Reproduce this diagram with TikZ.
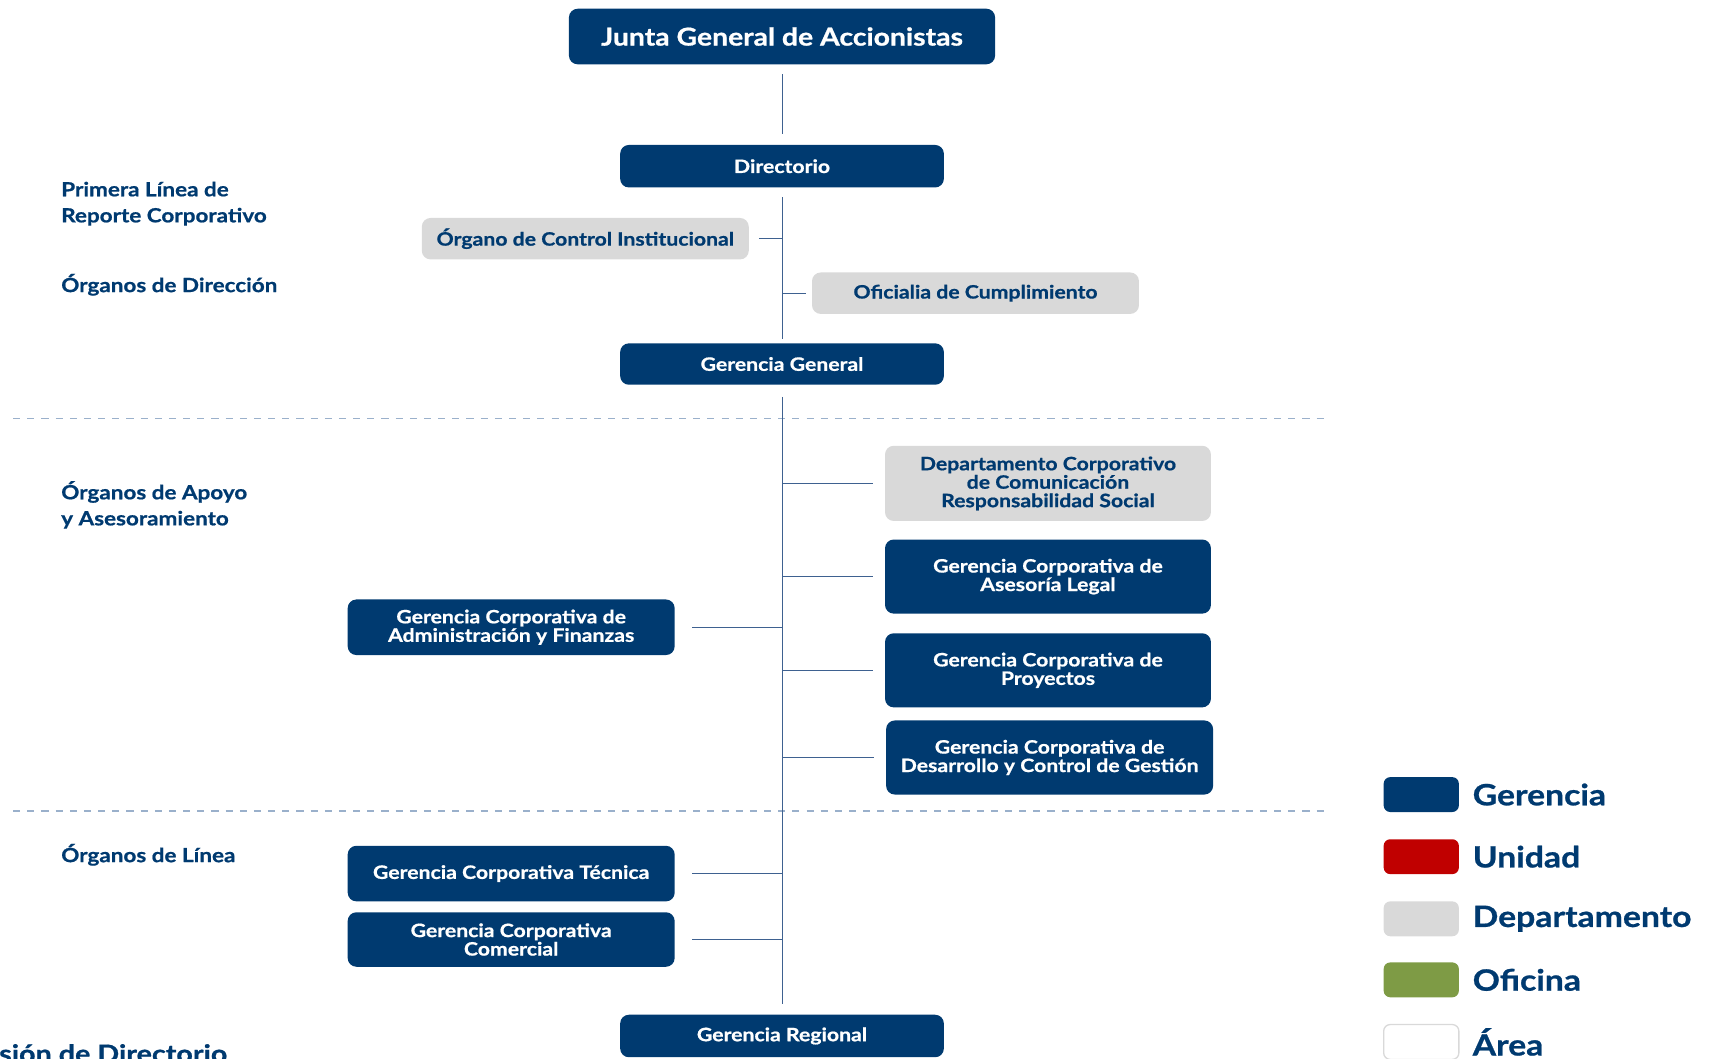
\documentclass[tikz,border=0pt]{standalone}
\usepackage{fontspec}
\setmainfont{Lato}[FakeStretch=1.15, BoldFeatures={FakeBold=0.8}]
\definecolor{navy}{HTML}{003A70}
\definecolor{dgray}{HTML}{D9D9D9}
\definecolor{lred}{HTML}{C00000}
\definecolor{lgreen}{HTML}{7E9B45}
\definecolor{connc}{HTML}{3E6190}
\definecolor{dashc}{HTML}{9AB0CB}
\begin{document}
\begin{tikzpicture}[x=1bp,y=-1bp,
  gbox/.style={fill=navy, rounded corners=8bp, text=white, align=center, inner sep=0pt,
    font=\bfseries\fontsize{17}{17}\selectfont},
  dbox/.style={fill=dgray, rounded corners=8bp, text=navy, align=center, inner sep=0pt,
    font=\bfseries\fontsize{17}{17}\selectfont},
  conn/.style={draw=connc, line width=0.9bp},
  sepline/.style={draw=dashc, line width=1.3bp, dash pattern=on 6.5bp off 6.5bp},
  lbl/.style={text=navy, anchor=base west, inner sep=0pt, align=left,
    font=\bfseries\fontsize{18}{24}\selectfont},
  legbox/.style={rounded corners=6bp, minimum width=69bp, minimum height=32bp, inner sep=0pt},
  legtxt/.style={text=navy, anchor=west, inner sep=0pt, font=\bfseries\fontsize{27}{27}\selectfont}
]
\useasboundingbox (0,0) rectangle (1568,971);

% main boxes
\node[gbox, minimum width=391bp, minimum height=51bp, font=\bfseries\fontsize{22.7}{22.7}\selectfont] (junta) at (717.5,33.5) {Junta General de Accionistas};
\node[gbox, minimum width=297bp, minimum height=39bp] (dir) at (717.5,152.5) {Directorio};
\node[dbox, minimum width=300bp, minimum height=38bp] (oci) at (537,219) {Órgano de Control Institucional};
\node[dbox, minimum width=300bp, minimum height=38bp] (ofi) at (895,269) {Oficialia de Cumplimiento};
\node[gbox, minimum width=297bp, minimum height=38bp] (gg) at (717.5,334) {Gerencia General};

\node[dbox, minimum width=299bp, minimum height=69bp] (dcc) at (961.5,443.5) {Departamento Corporativo\\de Comunicación\\Responsabilidad Social};
\node[gbox, minimum width=299bp, minimum height=68bp] (gal) at (961.5,529) {Gerencia Corporativa de\\Asesoría Legal};
\node[gbox, minimum width=299bp, minimum height=68bp] (gpr) at (961.5,615) {Gerencia Corporativa de\\Proyectos};
\node[gbox, minimum width=300bp, minimum height=68bp] (gdc) at (963,695) {Gerencia Corporativa de\\Desarrollo y Control de Gestión};
\node[gbox, minimum width=300bp, minimum height=51bp] (gaf) at (469,575.5) {Gerencia Corporativa de\\Administración y Finanzas};

\node[gbox, minimum width=300bp, minimum height=51bp] (gct) at (469,801.5) {Gerencia Corporativa Técnica};
\node[gbox, minimum width=300bp, minimum height=50bp] (gcc) at (469,862) {Gerencia Corporativa\\Comercial};
\node[gbox, minimum width=297bp, minimum height=39bp] (grg) at (717.5,950.5) {Gerencia Regional};

% separators
\coordinate (s1a) at (12,384); \coordinate (s1b) at (1220,384);
\coordinate (s2a) at (12,744); \coordinate (s2b) at (1220,744);
\draw[sepline] (s1a) -- (s1b);
\draw[sepline] (s2a) -- (s2b);

% connectors
\draw[conn, shorten <=9bp, shorten >=10bp] (junta.south) -- (dir.north);
\draw[conn, shorten <=9bp, shorten >=4bp] (dir.south) -- (gg.north);
\draw[conn, shorten <=11bp, shorten >=10bp] (gg.south) -- (grg.north);
\draw[conn, shorten <=9bp] (oci.east) -- (oci.east -| dir.south);
\draw[conn, shorten >=5bp] (ofi.west -| dir.south) -- (ofi.west);
\foreach \n in {dcc,gal,gpr,gdc}{
  \draw[conn, shorten >=11bp] (\n.west -| gg.south) -- (\n.west);
}
\foreach \n in {gaf,gct,gcc}{
  \draw[conn, shorten <=16bp] (\n.east) -- (\n.east -| gg.south);
}

% left labels (anchor = baseline of last line)
\node[lbl] (l1) at (56,204) {Primera Línea de\\Reporte Corporativo};
\node[lbl] (l2) at (56,268) {Órganos de Dirección};
\node[lbl] (l3) at (56,482) {Órganos de Apoyo\\y Asesoramiento};
\node[lbl] (l4) at (56,791) {Órganos de Línea};
\node[text=navy, anchor=base west, inner sep=0pt, font=\bfseries\fontsize{23}{23}\selectfont] (l5) at (-1,975) {sión de Directorio};

% legend
\node[legbox, fill=navy] (k1) at (1304,729) {};
\node[legbox, fill=lred] (k2) at (1304,786) {};
\node[legbox, fill=dgray] (k3) at (1304,843) {};
\node[legbox, fill=lgreen] (k4) at (1304,899) {};
\node[legbox, fill=white, draw=dgray, line width=1.2bp] (k5) at (1304,956) {};
\node[legtxt] (t1) at (1351,729) {Gerencia};
\node[legtxt] (t2) at (1351,786) {Unidad};
\node[legtxt] (t3) at (1351,843) {Departamento};
\node[legtxt] (t4) at (1351,899) {Oficina};
\node[legtxt] (t5) at (1351,956) {Área};
\end{tikzpicture}
\end{document}
